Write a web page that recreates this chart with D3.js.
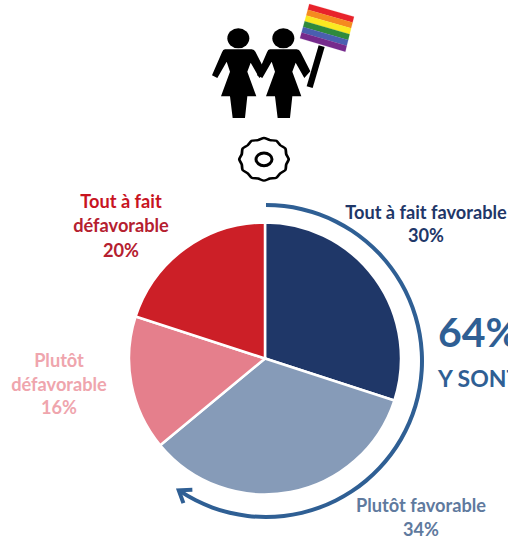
<!DOCTYPE html>
<html>
<head>
<meta charset="utf-8">
<script src="https://cdn.jsdelivr.net/npm/d3@7"></script>
<style>
html,body{margin:0;padding:0;background:#fff;overflow:hidden}
svg{display:block}
text{font-family:Lato,"Open Sans",sans-serif;font-weight:700}
</style>
</head>
<body>
<svg id="chart" width="508" height="541"></svg>
<script>
// Opinion shares, clockwise from twelve o'clock
const categories = ["Tout à fait favorable", "Plutôt favorable", "Plutôt défavorable", "Tout à fait défavorable"];
const shares = [30, 34, 16, 20];
const sliceColors = ["#1f3768", "#869bb8", "#e57f8c", "#cc1f27"];
const flagStripes = ["#e8232b", "#f58a1f", "#fbe921", "#2f8a3c", "#4a5fb0", "#762a8c"];
const favourableTotal = "64%";
const favourableCaption = "Y SONT";

const svg = d3.select("#chart");
const blue = "#2f5f94";

// Pie
const pieCenter = [265, 358.5], pieRadius = 136;
const pie = d3.pie().sort(null).value(d => d)(shares);
const arc = d3.arc().innerRadius(0).outerRadius(pieRadius);
svg.append("g")
  .attr("transform", `translate(${pieCenter})`)
  .selectAll("path").data(pie).join("path")
  .attr("d", arc)
  .attr("fill", (d, i) => sliceColors[i])
  .attr("stroke", "#fff")
  .attr("stroke-width", 2.5);

// Arrow around the favourable slices
const ringCenter = [266, 361], ringRadius = 156;
const ringEnd = 214 * Math.PI / 180;
const ring = svg.append("g").attr("transform", `translate(${ringCenter})`);
ring.append("path")
  .attr("d", d3.arc().innerRadius(ringRadius - 2).outerRadius(ringRadius + 2)
    .startAngle(0).endAngle(ringEnd - 0.01)())
  .attr("fill", blue);
ring.append("path")
  .attr("transform", `rotate(${ringEnd * 180 / Math.PI}) translate(0,${-ringRadius})`)
  .attr("d", "M-11,-8 L0,0 L-11,8")
  .attr("fill", "none")
  .attr("stroke", blue)
  .attr("stroke-width", 4)
  .attr("stroke-linejoin", "miter");

// Couple with flag
const icon = svg.append("g").attr("transform", "translate(190,0) scale(0.3333)");
const person = "M105,148 L185,148 Q193,148 197,157 L226,214 L208,234 L182,188 L172,215 L199,289 L172,289 L165,354 L128,354 L120,289 L93,289 L120,215 L110,185 L82,234 L66,226 L96,157 Q99,148 105,148 Z";
[0, 135].forEach(dx => {
  const g = icon.append("g").attr("transform", `translate(${dx},0)`);
  g.append("ellipse").attr("cx", 145).attr("cy", 115).attr("rx", 33).attr("ry", 30).attr("fill", "#000");
  g.append("path").attr("d", person).attr("fill", "#000");
});
icon.append("path").attr("d", "M386,136 L404,141 L368,264 L350,259 Z").attr("fill", "#000");

// Flag stripes are spaced along the skewed edges of the cloth
const flag = { tl: [358, 12], tr: [492, 50], br: [466, 155], bl: [330, 115] };
const band = d3.scaleBand().domain(d3.range(flagStripes.length)).range([0, 1]);
const lerp = (a, b, t) => [a[0] + (b[0] - a[0]) * t, a[1] + (b[1] - a[1]) * t];
flagStripes.forEach((c, i) => {
  const t0 = band(i), t1 = t0 + band.bandwidth();
  const pts = [lerp(flag.tl, flag.bl, t0), lerp(flag.tr, flag.br, t0), lerp(flag.tr, flag.br, t1), lerp(flag.tl, flag.bl, t1)];
  icon.append("polygon").attr("points", pts.join(" ")).attr("fill", c).attr("stroke", c).attr("stroke-width", 0.5);
});

// Scalloped badge below the couple
const bumps = 12;
const scallop = d3.lineRadial().curve(d3.curveCardinalClosed.tension(0.3))
  .angle(d => d.a).radius(d => d.r)(
    d3.range(bumps * 2).map(i => ({ a: i * Math.PI / bumps, r: i % 2 ? 67 : 72 })));
const badge = icon.append("g").attr("transform", "translate(222,478)");
badge.append("path").attr("d", scallop).attr("transform", "scale(1.03,0.89)")
  .attr("fill", "none").attr("stroke", "#000").attr("stroke-width", 8);
badge.append("ellipse").attr("rx", 24).attr("ry", 19).attr("fill", "none").attr("stroke", "#000").attr("stroke-width", 9);

// Slice labels
const labelRows = [
  { x: 426, y: 219, t: "Tout à fait favorable", c: "#1f3768" },
  { x: 426, y: 242, t: "30%", c: "#1f3768" },
  { x: 421, y: 512, t: "Plutôt favorable", c: "#5f7a9e" },
  { x: 421, y: 536, t: "34%", c: "#5f7a9e" },
  { x: 59, y: 367, t: "Plutôt", c: "#efa5ad" },
  { x: 59, y: 391, t: "défavorable", c: "#efa5ad" },
  { x: 59, y: 414, t: "16%", c: "#efa5ad" },
  { x: 121, y: 208, t: "Tout à fait", c: "#c8141f" },
  { x: 121, y: 232, t: "défavorable", c: "#b5202f" },
  { x: 121, y: 257, t: "20%", c: "#b5202f" }
];
svg.append("g").selectAll("text").data(labelRows).join("text")
  .attr("x", d => d.x).attr("y", d => d.y)
  .attr("text-anchor", "middle")
  .attr("font-size", 18.2)
  .attr("fill", d => d.c)
  .text(d => d.t);

// Favourable total, running off the right edge
svg.append("text").attr("x", 438).attr("y", 347).attr("font-size", 41).attr("font-weight", 900).attr("fill", blue).text(favourableTotal);
svg.append("text").attr("x", 438).attr("y", 387).attr("font-size", 23).attr("fill", blue).text(favourableCaption);
</script>
</body>
</html>
